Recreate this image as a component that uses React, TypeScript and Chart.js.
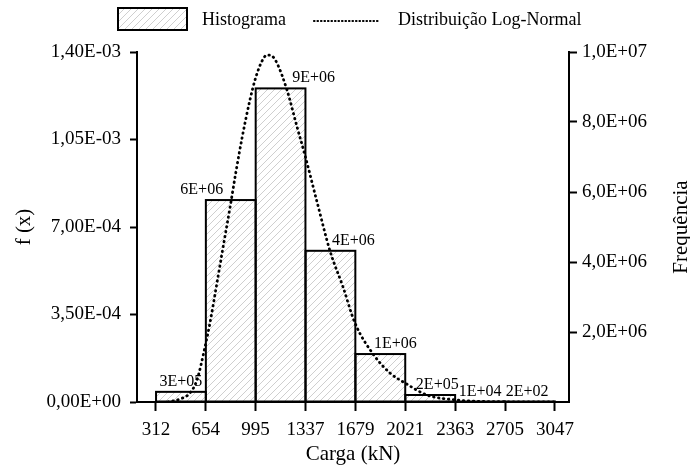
import React, { useEffect, useRef } from 'react';
import { Chart, registerables } from 'chart.js';

Chart.register(...registerables);

// ---- data ----
const binEdges = [312, 654, 995, 1337, 1679, 2021, 2363, 2705, 3047];
const frequencies = [2.9e5, 5.77e6, 8.96e6, 4.32e6, 1.37e6, 2.0e5, 1.0e4, 2.0e2];
const curveLoad = [394, 477, 545, 593, 648, 682, 730, 771, 819, 860, 902, 956, 997, 1039, 1073, 1107, 1141, 1210, 1279, 1333, 1416, 1505, 1594, 1676, 1800, 1916, 2019, 2170, 2375, 2705, 3047];
const curvePdf = [0, 1.2e-5, 3.6e-5, 8.8e-5, 2.2e-4, 3.16e-4, 4.76e-4, 6.16e-4, 7.76e-4, 9.2e-4, 1.056e-3, 1.208e-3, 1.3e-3, 1.364e-3, 1.388e-3, 1.384e-3, 1.356e-3, 1.248e-3, 1.1e-3, 9.88e-4, 8.0e-4, 6.04e-4, 4.6e-4, 3.16e-4, 1.92e-4, 1.16e-4, 7.6e-5, 2.8e-5, 8e-6, 1e-6, 0];
const leftTicks = [0, 3.5e-4, 7e-4, 1.05e-3, 1.4e-3];
const rightTicks = [0, 2e6, 4e6, 6e6, 8e6, 1e7];
const seriesNames = ['Histograma', 'Distribuição Log-Normal'];
const axisTitles = { x: 'Carga (kN)', left: 'f (x)', right: 'Frequência' };

// ---- styles (pixel offsets for bar value labels) ----
const barLabelDx = [0, -29, 33, 23, 15, 7, 0, -3];
const FONT = '"Liberation Serif", "Times New Roman", serif';

function expFmt(v: number, digits: number): string {
  const s = v.toExponential(digits);
  const [mant, exp] = s.split('e');
  const sign = exp[0] === '-' ? '-' : '+';
  const num = exp.replace(/[+-]/, '').padStart(2, '0');
  return mant.replace('.', ',') + 'E' + sign + num;
}

function makeHatch(ctx: CanvasRenderingContext2D) {
  const c = document.createElement('canvas');
  const s = 7;
  c.width = s;
  c.height = s;
  const g = c.getContext('2d')!;
  g.fillStyle = '#ffffff';
  g.fillRect(0, 0, s, s);
  g.strokeStyle = '#cfcfcf';
  g.lineWidth = 1;
  g.beginPath();
  g.moveTo(0, s);
  g.lineTo(s, 0);
  g.moveTo(-1, 1);
  g.lineTo(1, -1);
  g.moveTo(s - 1, s + 1);
  g.lineTo(s + 1, s - 1);
  g.stroke();
  return ctx.createPattern(c, 'repeat')!;
}

export default function App() {
  const ref = useRef<HTMLCanvasElement | null>(null);

  useEffect(() => {
    document.body.style.margin = '0';
    const canvas = ref.current!;
    const ctx0 = canvas.getContext('2d')!;
    const hatch = makeHatch(ctx0);

    const barData = frequencies.map((f, i) => ({ x: (binEdges[i] + binEdges[i + 1]) / 2, y: f }));
    const lineData = curveLoad.map((x, i) => ({ x, y: curvePdf[i] }));

    const overlay = {
      id: 'overlay',
      afterDatasetDraw(chart: any, args: any) {
        if (args.index !== 0) return;
        const ctx = chart.ctx as CanvasRenderingContext2D;
        const meta = chart.getDatasetMeta(0);
        ctx.save();
        ctx.strokeStyle = '#000';
        ctx.lineWidth = 2;
        meta.data.forEach((bar: any) => {
          const l = bar.x - bar.width / 2;
          const r = bar.x + bar.width / 2;
          ctx.strokeRect(l, bar.y, r - l, bar.base - bar.y);
        });
        ctx.restore();
      },
      afterDatasetsDraw(chart: any) {
        const ctx = chart.ctx as CanvasRenderingContext2D;
        const meta = chart.getDatasetMeta(0);
        ctx.save();
        ctx.font = '16px ' + FONT;
        ctx.fillStyle = '#000';
        ctx.textAlign = 'center';
        ctx.textBaseline = 'alphabetic';
        meta.data.forEach((bar: any, i: number) => {
          const txt = frequencies[i].toExponential(0).replace('e', 'E').replace(/([+-])(\d)$/, '$10$2');
          ctx.fillText(txt, bar.x + barLabelDx[i], bar.y - 6);
        });
        ctx.restore();
      },
      afterDraw(chart: any) {
        const ctx = chart.ctx as CanvasRenderingContext2D;
        ctx.save();
        // legend
        ctx.fillStyle = hatch;
        ctx.fillRect(118, 8, 69, 22);
        ctx.strokeStyle = '#000';
        ctx.lineWidth = 2;
        ctx.strokeRect(118, 8, 69, 22);
        ctx.font = '18px ' + FONT;
        ctx.fillStyle = '#000';
        ctx.textAlign = 'left';
        ctx.textBaseline = 'middle';
        ctx.fillText(seriesNames[0], 202, 20);
        ctx.beginPath();
        ctx.setLineDash([0.5, 3]);
        ctx.lineCap = 'round';
        ctx.lineWidth = 2.2;
        ctx.moveTo(314, 21);
        ctx.lineTo(380, 21);
        ctx.stroke();
        ctx.setLineDash([]);
        ctx.fillText(seriesNames[1], 398, 20);
        // right title
        const area = chart.chartArea;
        ctx.translate(681, (area.top + area.bottom) / 2);
        ctx.rotate(-Math.PI / 2);
        ctx.font = '21px ' + FONT;
        ctx.textAlign = 'center';
        ctx.textBaseline = 'middle';
        ctx.fillText(axisTitles.right, 0, 0);
        ctx.restore();
      },
    };

    const chart = new Chart(canvas, {
      type: 'bar',
      data: {
        datasets: [
          {
            type: 'bar',
            label: seriesNames[0],
            data: barData as any,
            yAxisID: 'y1',
            backgroundColor: hatch as any,
            borderWidth: 0,
            barPercentage: 1,
            categoryPercentage: 1,
            order: 1,
          },
          {
            type: 'line',
            label: seriesNames[1],
            data: lineData as any,
            yAxisID: 'y',
            borderColor: '#000',
            borderWidth: 2.8,
            borderDash: [0.5, 4.5],
            borderCapStyle: 'round',
            pointRadius: 0,
            fill: false,
            cubicInterpolationMode: 'monotone',
            order: 0,
          } as any,
        ],
      },
      options: {
        responsive: false,
        animation: false,
        devicePixelRatio: 1,
        layout: { padding: { top: 52, left: 0, right: 0, bottom: 0 } },
        plugins: {
          legend: { display: false },
          tooltip: { enabled: false },
        },
        scales: {
          x: {
            type: 'linear',
            min: 182,
            max: 3143,
            offset: false,
            afterBuildTicks: (scale: any) => {
              scale.ticks = binEdges.map((v) => ({ value: v }));
            },
            afterFit: (scale: any) => {
              scale.height = 68;
            },
            grid: {
              offset: false,
              drawOnChartArea: false,
              drawTicks: true,
              tickLength: 9,
              tickWidth: 2,
              tickColor: '#000',
            },
            border: { display: true, color: '#000', width: 2 },
            ticks: {
              autoSkip: false,
              maxRotation: 0,
              padding: 8,
              color: '#000',
              font: { family: FONT, size: 19 },
              callback: (v: any) => String(v),
            },
            title: {
              display: true,
              text: axisTitles.x,
              color: '#000',
              font: { family: FONT, size: 21 },
              padding: { top: 0, bottom: 3 },
            },
          },
          y: {
            type: 'linear',
            position: 'left',
            min: 0,
            max: 1.4e-3,
            afterBuildTicks: (scale: any) => {
              scale.ticks = leftTicks.map((v) => ({ value: v }));
            },
            afterFit: (scale: any) => {
              scale.width = 137;
            },
            grid: {
              drawOnChartArea: false,
              drawTicks: true,
              tickLength: 7,
              tickWidth: 2,
              tickColor: '#000',
            },
            border: { display: true, color: '#000', width: 2 },
            ticks: {
              autoSkip: false,
              padding: 9,
              color: '#000',
              font: { family: FONT, size: 19 },
              callback: (v: any) => expFmt(Number(v), 2),
            },
            title: {
              display: true,
              text: axisTitles.left,
              color: '#000',
              font: { family: FONT, size: 21 },
              padding: { top: 12, bottom: 0 },
            },
          },
          y1: {
            type: 'linear',
            position: 'right',
            min: 0,
            max: 1e7,
            afterBuildTicks: (scale: any) => {
              scale.ticks = rightTicks.map((v) => ({ value: v }));
            },
            afterFit: (scale: any) => {
              scale.width = 121;
            },
            grid: {
              drawOnChartArea: false,
              drawTicks: true,
              tickLength: 8,
              tickWidth: 2,
              tickColor: (c: any) => (c.tick && c.tick.value === 0 ? 'rgba(0,0,0,0)' : '#000'),
            },
            border: { display: true, color: '#000', width: 2 },
            ticks: {
              autoSkip: false,
              padding: 5,
              color: '#000',
              font: { family: FONT, size: 19 },
              callback: (v: any) => (Number(v) === 0 ? '' : expFmt(Number(v), 1)),
            },
          },
        },
      },
      plugins: [overlay],
    } as any);

    return () => {
      chart.destroy();
    };
  }, []);

  return (
    <div style={{ width: 690, height: 470 }}>
      <canvas ref={ref} width={690} height={470} style={{ display: 'block' }} />
    </div>
  );
}
